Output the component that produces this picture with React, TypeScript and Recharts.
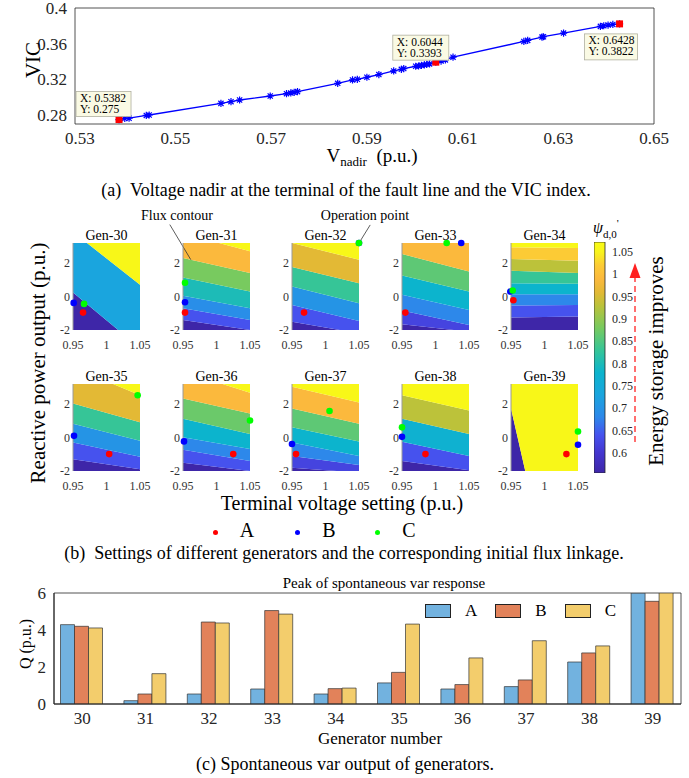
import React from 'react';
import {
  ComposedChart, Line, Scatter, Area, XAxis, YAxis, ReferenceArea, ReferenceDot, ReferenceLine,
  BarChart, Bar, Legend,
} from 'recharts';

const SERIF = '"Liberation Serif", "Times New Roman", serif';
const INK = '#262626';

// (a) voltage nadir vs VIC
const vNadir = [
  0.5382, 0.5394, 0.5403, 0.5439, 0.5445, 0.5595, 0.5616, 0.5634, 0.5698, 0.5732, 0.5741, 0.5748,
  0.5755, 0.5839, 0.587, 0.588, 0.59, 0.5925, 0.5956, 0.5972, 0.5977, 0.6002, 0.6008, 0.6014,
  0.602, 0.6025, 0.6031, 0.6044, 0.6055, 0.6064, 0.608, 0.6228, 0.6236, 0.6266, 0.6269, 0.6311,
  0.6388, 0.6395, 0.6404, 0.6414, 0.6428,
];
const vicIndex = [
  0.275, 0.2762, 0.2765, 0.2796, 0.2801, 0.2931, 0.295, 0.2969, 0.3014, 0.304, 0.3048, 0.3055,
  0.3063, 0.3156, 0.3194, 0.3201, 0.3224, 0.3254, 0.3295, 0.3313, 0.3321, 0.3347, 0.335, 0.3358,
  0.3362, 0.3369, 0.3373, 0.3393, 0.3405, 0.3418, 0.3449, 0.3625, 0.3637, 0.3674, 0.3678, 0.3719,
  0.3794, 0.3801, 0.3809, 0.3816, 0.3822,
];
const tipV = [0.5382, 0.6044, 0.6428];
const tipVic = [0.275, 0.3393, 0.3822];
const vTicks = [0.53, 0.55, 0.57, 0.59, 0.61, 0.63, 0.65];
const vicTicks = [0.28, 0.32, 0.36, 0.4];

// (b) contour panels: band levels (psi'_d,0) bottom->top and edges [at 0.95, at 1.05]
const genNames = ['Gen-30', 'Gen-31', 'Gen-32', 'Gen-33', 'Gen-34', 'Gen-35', 'Gen-36', 'Gen-37', 'Gen-38', 'Gen-39'];
const bandLevels = [
  [0.555, 0.73, 1.06],
  [0.555, 0.64, 0.69, 0.8, 0.88, 0.99, 1.06],
  [0.555, 0.64, 0.7, 0.83, 0.96, 1.06],
  [0.555, 0.62, 0.68, 0.78, 0.86, 0.99],
  [0.555, 0.64, 0.68, 0.78, 0.83, 0.93, 1.02, 1.06],
  [0.555, 0.64, 0.7, 0.83, 0.96, 1.06],
  [0.555, 0.64, 0.68, 0.78, 0.87, 0.99, 1.06],
  [0.555, 0.62, 0.68, 0.78, 0.86, 0.99, 1.06],
  [0.555, 0.64, 0.77, 0.93, 1.06],
  [0.555, 1.06],
];
const bandEdges: number[][][] = [
  [[0.24, -3.08], [3.86, 0.7]],
  [[-1.4, -2.0], [-0.7, -1.4], [0.04, -0.7], [1.14, 0.3], [2.3, 1.4], [3.78, 2.7]],
  [[-1.5, -2.2], [-0.5, -1.46], [0.6, -0.4], [1.76, 0.8], [3.2, 2.2]],
  [[-1.66, -2.1], [-0.84, -1.7], [0.1, -0.8], [1.26, 0.3], [2.54, 1.5]],
  [[-1.26, -1.2], [-0.54, -0.5], [0.14, 0.14], [0.8, 0.76], [1.54, 1.4], [2.24, 2.14], [2.94, 2.9]],
  [[-1.3, -1.9], [-0.29, -1.15], [0.82, -0.19], [2.03, 0.92], [4.2, 2.53]],
  [[-1.5, -2.0], [-0.73, -1.4], [0.01, -0.69], [1.12, 0.21], [2.33, 1.43], [3.95, 2.68]],
  [[-1.8, -2.1], [-1.1, -1.64], [-0.29, -1.1], [0.62, -0.23], [1.73, 0.82], [3.04, 2.1]],
  [[-1.4, -1.95], [-0.25, -1.1], [1.12, 0.21], [2.53, 1.62]],
  [[1.73, -15.8]],
];
const vSetting = [0.95, 1.05];
const opA = [[0.965, -0.96], [0.953, -0.96], [0.968, -0.96], [0.955, -0.96], [0.9535, -0.22], [1.004, -0.99], [1.025, -0.99], [0.956, -0.99], [0.985, -0.99], [1.0327, -0.99]];
const opB = [[0.951, -0.38], [0.953, -0.34], [1.05, 3.2], [1.0384, 3.2], [0.949, 0.3], [0.9515, 0.1], [0.9515, -0.23], [0.95, -0.39], [0.95, 0.04], [1.05, -0.43]];
const opC = [[0.9665, -0.44], [0.953, 0.82], [1.05, 3.2], [1.0167, 3.2], [0.9525, 0.36], [1.0465, 2.53], [1.05, 1.02], [1.006, 1.59], [0.95, 0.61], [1.05, 0.36]];
const cbTicks = [0.6, 0.65, 0.7, 0.75, 0.8, 0.85, 0.9, 0.95, 1, 1.05];
const cbRange = [0.555, 1.072];

// (c) peak of spontaneous var response
const genNumbers = [30, 31, 32, 33, 34, 35, 36, 37, 38, 39];
const qA = [4.29, 0.18, 0.54, 0.81, 0.54, 1.14, 0.81, 0.94, 2.27, 5.99];
const qB = [4.2, 0.54, 4.43, 5.05, 0.83, 1.71, 1.05, 1.3, 2.76, 5.55];
const qC = [4.11, 1.64, 4.38, 4.86, 0.86, 4.32, 2.49, 3.42, 3.14, 6.0];
const qTicks = [0, 2, 4, 6];

// parula-like colormap
const parulaStops: [number, string][] = [
  [0.555, '#3e26a8'], [0.6, '#4436cf'], [0.64, '#4652ee'], [0.68, '#2d88ea'], [0.73, '#1aa5de'],
  [0.78, '#0cb4cd'], [0.83, '#36c597'], [0.88, '#78ca5f'], [0.93, '#bcc23a'], [0.96, '#e3b935'],
  [0.99, '#fbb93d'], [1.02, '#fccb35'], [1.05, '#f8f41c'], [1.072, '#f9fb14'],
];
const hex = (h: string) => [1, 3, 5].map((i) => parseInt(h.slice(i, i + 2), 16));
function parula(v: number) {
  const s = parulaStops;
  if (v <= s[0][0]) return s[0][1];
  for (let i = 1; i < s.length; i++) {
    if (v <= s[i][0]) {
      const t = (v - s[i - 1][0]) / (s[i][0] - s[i - 1][0]);
      const a = hex(s[i - 1][1]), b = hex(s[i][1]);
      return `rgb(${a.map((c, k) => Math.round(c + (b[k] - c) * t)).join(',')})`;
    }
  }
  return s[s.length - 1][1];
}

const Asterisk = (p: any) => {
  const { cx, cy, index } = p;
  if (cx == null || cy == null) return <g key={`a${index}`} />;
  const r = 3.6, d = 2.6;
  return (
    <path key={`a${index}`} stroke="#0000ff" strokeWidth={1.2} fill="none"
      d={`M${cx - r},${cy}H${cx + r}M${cx},${cy - r}V${cy + r}M${cx - d},${cy - d}L${cx + d},${cy + d}M${cx - d},${cy + d}L${cx + d},${cy - d}`} />
  );
};

const tipBoxes = [
  { dx: -43, dy: -28, w: 55, h: 25 },
  { dx: -43, dy: -27, w: 56, h: 25 },
  { dx: -35, dy: 10, w: 53, h: 26 },
];

const DataTip = (p: any) => {
  const { cx, cy, payload } = p;
  const i = tipV.indexOf(payload.x);
  const b = tipBoxes[i];
  return (
    <g fontFamily={SERIF}>
      <rect x={cx - 3.5} y={cy - 3.5} width={7} height={7} fill="#ff0000" />
      <rect x={cx + b.dx} y={cy + b.dy} width={b.w} height={b.h} fill="#fafae4" stroke="#b0b0a0" strokeWidth={0.8} />
      <text x={cx + b.dx + 4} y={cy + b.dy + 10.5} fontSize={11.5} fill="#000">{`X: ${tipV[i]}`}</text>
      <text x={cx + b.dx + 4} y={cy + b.dy + 21.5} fontSize={11.5} fill="#000">{`Y: ${tipVic[i]}`}</text>
    </g>
  );
};

const Txt = ({ x, y, size, rotate, children, style }: any) => (
  <div style={{
    position: 'absolute', left: x, top: y, fontSize: size, lineHeight: 1, whiteSpace: 'nowrap', color: '#000',
    fontFamily: SERIF, transform: `translate(-50%,-50%)${rotate ? ' rotate(-90deg)' : ''}`, ...style,
  }}>{children}</div>
);

const PANEL_X = [73, 183, 292, 402, 511];
const PANEL_Y = [243, 384];
const PW = 67, PH = 87, YW = 22, MT = 42, MR = 14, XH = 22;

function Panel({ i }: { i: number }) {
  const col = i % 5, row = Math.floor(i / 5);
  const lv = bandLevels[i], bd = bandEdges[i];
  const rows = [0, 1].map((side) => {
    const r: Record<string, any> = { v: vSetting[side] };
    lv.forEach((_, k) => {
      r['b' + k] = [k === 0 ? -40 : bd[k - 1][side], k === lv.length - 1 ? 40 : bd[k][side]];
    });
    return r;
  });
  const tick = { fontSize: 12, fill: '#333', fontFamily: SERIF };
  return (
    <div style={{ position: 'absolute', left: PANEL_X[col] - YW, top: PANEL_Y[row] - MT }}>
      <ComposedChart width={YW + PW + MR} height={MT + PH + XH} data={rows} margin={{ top: MT, right: MR, bottom: 0, left: 0 }}>
        <XAxis type="number" dataKey="v" domain={[0.95, 1.05]} ticks={[0.95, 1, 1.05]} interval={0}
          allowDataOverflow tickLine={false} axisLine={false} height={XH} tickMargin={4} tick={tick} />
        <YAxis type="number" domain={[-2, 3.2]} ticks={[-2, 0, 2]} interval={0} allowDataOverflow width={YW}
          tickLine={false} tickSize={2} tickMargin={1} axisLine={{ stroke: '#9a9a9a' }} tick={tick} />
        {lv.map((l, k) => (
          <Area key={k} type="linear" dataKey={'b' + k} stroke="none" fill={parula(l)} fillOpacity={1}
            isAnimationActive={false} activeDot={false} dot={false} />
        ))}
        {i === 1 && (
          <ReferenceLine segment={[{ x: 0.9303, y: 4.3 }, { x: 0.9617, y: 2.2 }]} ifOverflow="visible" stroke="#333" strokeWidth={0.8} />
        )}
        {i === 2 && (
          <ReferenceLine segment={[{ x: 1.0667, y: 4.28 }, { x: 1.05, y: 3.2 }]} ifOverflow="visible" stroke="#333" strokeWidth={0.8} />
        )}
        <ReferenceDot x={opA[i][0]} y={opA[i][1]} r={3.3} fill="#ff0000" stroke="none" ifOverflow="visible" />
        <ReferenceDot x={opB[i][0]} y={opB[i][1]} r={3.3} fill="#0000ff" stroke="none" ifOverflow="visible" />
        <ReferenceDot x={opC[i][0]} y={opC[i][1]} r={3.3} fill="#00ff00" stroke="none" ifOverflow="visible" />
      </ComposedChart>
    </div>
  );
}

const QLegend = (props: any) => (
  <div style={{ display: 'flex', alignItems: 'center', fontFamily: SERIF }}>
    {(props.payload || []).map((e: any) => (
      <div key={e.value} style={{ display: 'flex', alignItems: 'center', marginRight: 18 }}>
        <span style={{ display: 'inline-block', width: 26, height: 14, background: e.color, border: '1px solid #222', boxSizing: 'border-box' }} />
        <span style={{ fontSize: 17, marginLeft: 14, color: '#000' }}>{e.value}</span>
      </div>
    ))}
  </div>
);

export default function App() {
  const curve = vNadir.map((x, i) => ({ x, y: vicIndex[i] }));
  const tips = tipV.map((x, i) => ({ x, y: tipVic[i] }));
  const bars = genNumbers.map((g, i) => ({ gen: g, A: qA[i], B: qB[i], C: qC[i] }));
  const cbData = [{ name: 'cb', range: cbRange }];
  const cbSpan = cbRange[1] - cbRange[0];
  const axTick = { fontSize: 17, fill: INK, fontFamily: SERIF };

  return (
    <div style={{ position: 'absolute', left: 0, top: 0, width: 689, height: 778, background: '#fff', fontFamily: SERIF, overflow: 'hidden' }}>
      {/* (a) */}
      <div style={{ position: 'absolute', left: 0, top: 0 }}>
        <ComposedChart width={689} height={170} data={curve} margin={{ top: 8, right: 35, bottom: 16, left: 0 }}>
          <XAxis type="number" dataKey="x" domain={[0.529, 0.65]} ticks={vTicks} interval={0} allowDataOverflow
            tickLine={false} axisLine={false} height={30} tick={axTick} />
          <YAxis type="number" domain={[0.27, 0.4]} ticks={vicTicks} interval={0} allowDataOverflow width={75}
            tickLine={false} axisLine={false} tick={axTick} />
          <ReferenceArea x1={0.529} x2={0.65} y1={0.27} y2={0.4} fill="none" stroke={INK} strokeWidth={0.8} />
          <Line type="linear" dataKey="y" stroke="#0000ff" strokeWidth={1.3} dot={Asterisk} activeDot={false} isAnimationActive={false} />
          <Scatter data={tips} dataKey="y" shape={DataTip} isAnimationActive={false} />
        </ComposedChart>
      </div>
      <Txt x={33} y={60} size={21} rotate>VIC</Txt>
      <Txt x={372} y={157} size={19}>V<sub style={{ fontSize: 13 }}>nadir</sub>&nbsp;&nbsp;(p.u.)</Txt>
      <Txt x={346} y={190} size={18}>(a)&nbsp; Voltage nadir at the terminal of the fault line and the VIC index.</Txt>

      {/* (b) */}
      {genNames.map((_, i) => <Panel key={i} i={i} />)}
      {genNames.map((g, i) => (
        <Txt key={g} x={PANEL_X[i % 5] + PW / 2} y={i < 5 ? 236 : 377} size={14}>{g}</Txt>
      ))}
      <Txt x={177} y={216} size={14}>Flux contour</Txt>
      <Txt x={365} y={216} size={14}>Operation point</Txt>
      <div style={{ position: 'absolute', left: 594, top: 236 }}>
        <BarChart width={41} height={243} data={cbData} margin={{ top: 6, right: 0, bottom: 6, left: 0 }} barCategoryGap={0}>
          <defs>
            <linearGradient id="parulaGrad" x1="0" y1="1" x2="0" y2="0">
              {parulaStops.map(([v, c]) => (
                <stop key={v} offset={`${((v - cbRange[0]) / cbSpan) * 100}%`} stopColor={c} />
              ))}
            </linearGradient>
          </defs>
          <XAxis dataKey="name" hide />
          <YAxis orientation="right" type="number" domain={cbRange} ticks={cbTicks} interval={0} allowDataOverflow width={30}
            tickLine={false} axisLine={false} tickSize={5} tickMargin={2} tick={{ fontSize: 12, fill: INK, fontFamily: SERIF }} />
          <Bar dataKey="range" fill="url(#parulaGrad)" stroke={INK} strokeWidth={0.8} isAnimationActive={false} />
        </BarChart>
      </div>
      <div style={{ position: 'absolute', left: 593, top: 218, fontSize: 16, lineHeight: 1 }}>
        <i>ψ</i><sub style={{ fontSize: 11 }}>d,0</sub><sup style={{ fontSize: 11 }}>'</sup>
      </div>
      <svg width={689} height={778} style={{ position: 'absolute', left: 0, top: 0, pointerEvents: 'none' }}>
        <line x1={635} y1={276} x2={635} y2={443} stroke="#ff4040" strokeWidth={1.5} strokeDasharray="6 4" />
        <polygon points="635,263 629.5,278 640.5,278" fill="#ff2020" />
      </svg>
      <Txt x={656} y={361} size={21} rotate>Energy storage improves</Txt>
      <Txt x={38} y={363} size={21} rotate>Reactive power output (p.u.)</Txt>
      <Txt x={342} y={503} size={20}>Terminal voltage setting (p.u.)</Txt>
      {[['A', '#ff0000', 215], ['B', '#0000ff', 297], ['C', '#00ff00', 377]].map(([n, c, x]) => (
        <React.Fragment key={n as string}>
          <div style={{ position: 'absolute', left: (x as number) - 2.5, top: 529.5, width: 5, height: 5, borderRadius: '50%', background: c as string }} />
          <Txt x={(x as number) + 32} y={530} size={20}>{n}</Txt>
        </React.Fragment>
      ))}
      <Txt x={344} y={553} size={18}>(b)&nbsp; Settings of different generators and the corresponding initial flux linkage.</Txt>

      {/* (c) */}
      <Txt x={384} y={583} size={15}>Peak of spontaneous var response</Txt>
      <div style={{ position: 'absolute', left: 0, top: 580 }}>
        <BarChart width={689} height={150} data={bars} margin={{ top: 13, right: 8, bottom: 0, left: 0 }} barGap={0} barCategoryGap={10}>
          <XAxis type="number" dataKey="gen" domain={[29.555, 39.445]} ticks={genNumbers} interval={0} allowDataOverflow
            height={26} tickLine={false} axisLine={{ stroke: INK }} tick={axTick} />
          <YAxis type="number" domain={[0, 6]} ticks={qTicks} interval={0} width={54} tickLine={false}
            axisLine={{ stroke: INK }} tick={axTick} allowDataOverflow />
          <ReferenceArea y1={0} y2={6} fill="none" stroke={INK} strokeWidth={0.8} />
          <Legend layout="horizontal" verticalAlign="middle" align="center" content={QLegend}
            wrapperStyle={{ left: 425, top: 21, width: 220, height: 16 }} />
          <Bar dataKey="A" name="A" fill="#72b2df" stroke="#333" strokeWidth={0.7} isAnimationActive={false} />
          <Bar dataKey="B" name="B" fill="#e2825a" stroke="#333" strokeWidth={0.7} isAnimationActive={false} />
          <Bar dataKey="C" name="C" fill="#f3cd6c" stroke="#333" strokeWidth={0.7} isAnimationActive={false} />
        </BarChart>
      </div>
      <Txt x={26} y={644} size={16} rotate>Q (p.u.)</Txt>
      <Txt x={380} y={738} size={17}>Generator number</Txt>
      <Txt x={345} y={764} size={18}>(c) Spontaneous var output of generators.</Txt>
    </div>
  );
}
